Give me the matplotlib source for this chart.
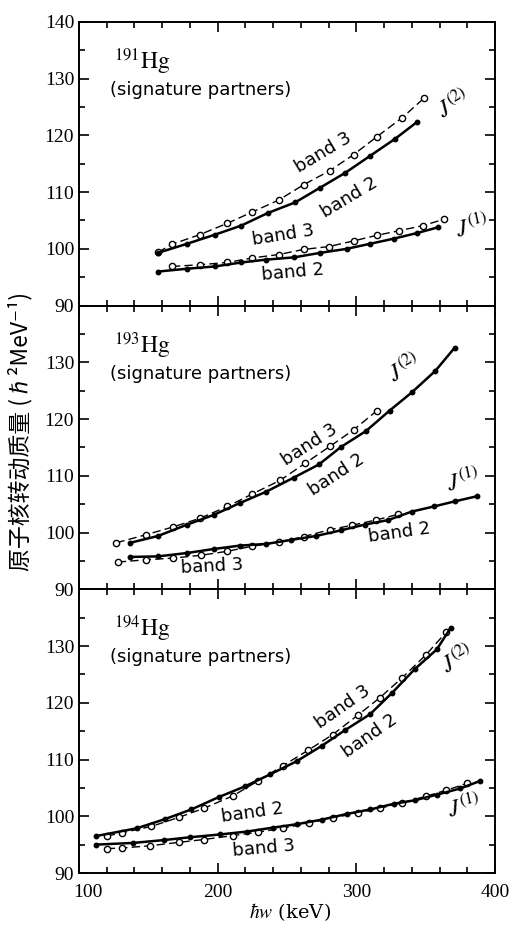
import matplotlib
matplotlib.use("Agg")
import matplotlib.pyplot as plt
import matplotlib.transforms as mtransforms
from matplotlib.ticker import MultipleLocator

plt.rcParams['mathtext.fontset'] = 'stix'
plt.rcParams['font.family'] = ['DejaVu Sans']

# ---- 191Hg ----
hg191_j2_b3_x = [157, 167, 187, 207, 225, 244, 262, 281, 298, 315, 333, 349]
hg191_j2_b3_y = [99.4, 100.8, 102.5, 104.5, 106.5, 108.6, 111.3, 113.8, 116.6, 119.8, 123.1, 126.6]
hg191_j2_b2_x = [157, 178, 198, 217, 236, 256, 274, 292, 310, 328, 344]
hg191_j2_b2_y = [99.3, 100.9, 102.5, 104.1, 106.3, 108.2, 110.8, 113.4, 116.4, 119.4, 122.4]
hg191_j1_b3_x = [167, 187, 207, 225, 244, 262, 280, 298, 315, 331, 348, 363]
hg191_j1_b3_y = [96.9, 97.2, 97.6, 98.4, 99.0, 99.9, 100.4, 101.4, 102.4, 103.2, 104.1, 105.2]
hg191_j1_b2_x = [157, 178, 198, 217, 235, 255, 274, 293, 310, 327, 344, 359]
hg191_j1_b2_y = [96.0, 96.5, 96.9, 97.6, 98.1, 98.5, 99.3, 100.0, 100.9, 101.8, 102.8, 103.8]

# ---- 193Hg ----
hg193_j2_b3_x = [127, 148, 168, 187, 207, 225, 245, 263, 281, 298, 315]
hg193_j2_b3_y = [98.2, 99.6, 101.0, 102.5, 104.6, 106.8, 109.2, 112.2, 115.2, 118.1, 121.5]
hg193_j2_b2_x = [137, 157, 178, 197, 216, 235, 255, 273, 289, 307, 324, 340, 357, 371]
hg193_j2_b2_y = [98.2, 99.4, 101.4, 103.1, 105.2, 107.2, 109.7, 112.0, 115.1, 117.9, 121.5, 124.7, 128.5, 132.6]
hg193_j1_b3_x = [128, 148, 168, 188, 207, 225, 244, 262, 281, 297, 314, 330]
hg193_j1_b3_y = [94.8, 95.2, 95.5, 96.0, 96.7, 97.6, 98.3, 99.3, 100.5, 101.3, 102.2, 103.2]
hg193_j1_b2_x = [137, 157, 178, 197, 216, 235, 253, 271, 289, 306, 323, 340, 356, 371, 387]
hg193_j1_b2_y = [95.7, 95.8, 96.4, 97.1, 97.7, 98.0, 98.7, 99.4, 100.4, 101.4, 102.2, 103.7, 104.6, 105.5, 106.4]

# ---- 194Hg ----
hg194_j2_b3_x = [120, 131, 152, 172, 190, 211, 229, 247, 265, 283, 301, 317, 333, 350, 365]
hg194_j2_b3_y = [96.5, 97.1, 98.2, 99.8, 101.4, 103.6, 106.2, 108.9, 111.6, 114.4, 117.8, 120.9, 124.4, 128.4, 132.5]
hg194_j2_b2_x = [112, 142, 162, 181, 201, 220, 238, 257, 275, 292, 310, 326, 342, 358, 368]
hg194_j2_b2_y = [96.5, 97.9, 99.5, 101.2, 103.4, 105.3, 107.4, 109.7, 112.4, 115.2, 118.0, 121.8, 125.9, 129.4, 133.2]
hg194_j1_b3_x = [120, 131, 151, 172, 190, 211, 229, 247, 266, 283, 301, 317, 333, 350, 365, 380]
hg194_j1_b3_y = [94.3, 94.4, 94.8, 95.4, 95.9, 96.6, 97.2, 97.9, 98.8, 99.7, 100.6, 101.4, 102.4, 103.5, 104.6, 105.8]
hg194_j1_b2_x = [112, 139, 161, 180, 202, 221, 240, 257, 275, 293, 310, 327, 342, 358, 375, 389]
hg194_j1_b2_y = [95.0, 95.3, 95.8, 96.3, 96.8, 97.3, 98.0, 98.6, 99.4, 100.4, 101.2, 102.2, 102.8, 103.8, 104.9, 106.2]

nuclei = ['191', '193', '194']
y_ticks = [90, 100, 110, 120, 130, 140]
x_ticks = [100, 200, 300, 400]

series = [
    (hg191_j2_b3_x, hg191_j2_b3_y, hg191_j2_b2_x, hg191_j2_b2_y,
     hg191_j1_b3_x, hg191_j1_b3_y, hg191_j1_b2_x, hg191_j1_b2_y),
    (hg193_j2_b3_x, hg193_j2_b3_y, hg193_j2_b2_x, hg193_j2_b2_y,
     hg193_j1_b3_x, hg193_j1_b3_y, hg193_j1_b2_x, hg193_j1_b2_y),
    (hg194_j2_b3_x, hg194_j2_b3_y, hg194_j2_b2_x, hg194_j2_b2_y,
     hg194_j1_b3_x, hg194_j1_b3_y, hg194_j1_b2_x, hg194_j1_b2_y),
]

# label placements (data coords, rotation) per panel
band_labels = [
    [('band 3', 276, 116.9, 31), ('band 2', 295, 109.1, 31),
     ('band 3', 247, 102.4, 9), ('band 2', 254, 95.8, 5)],
    [('band 3', 266, 115.4, 33), ('band 2', 286, 110.2, 33),
     ('band 2', 331, 100.0, 8), ('band 3', 196, 94.0, 3)],
    [('band 3', 290, 119.2, 35), ('band 2', 310, 114.1, 35),
     ('band 2', 225, 100.6, 8), ('band 3', 233, 94.4, 5)],
]
j_labels = [
    [('$J^{(2)}$', 370, 125.5, 30), ('$J^{(1)}$', 384, 103.8, 12)],
    [('$J^{(2)}$', 335, 129.0, 30), ('$J^{(1)}$', 377, 109.0, 12)],
    [('$J^{(2)}$', 373, 127.6, 30), ('$J^{(1)}$', 378, 101.6, 12)],
]

fig = plt.figure(figsize=(5.09, 9.25), dpi=100)
left, width = 79 / 509, 416 / 509
panel_h = 283.7 / 925
bottom0 = 52 / 925

for i in range(3):
    b = bottom0 + (2 - i) * panel_h
    ax = fig.add_axes([left, b, width, panel_h])
    j2b3x, j2b3y, j2b2x, j2b2y, j1b3x, j1b3y, j1b2x, j1b2y = series[i]

    ax.plot(j2b3x, j2b3y, color='black', lw=1.0, ls=(0, (6, 3)),
            marker='o', mfc='white', mec='black', ms=4.5, mew=1.0)
    ax.plot(j2b2x, j2b2y, color='black', lw=1.8, ls='-',
            marker='o', mfc='black', mec='black', ms=3.2)
    ax.plot(j1b3x, j1b3y, color='black', lw=1.0, ls=(0, (6, 3)),
            marker='o', mfc='white', mec='black', ms=4.5, mew=1.0)
    ax.plot(j1b2x, j1b2y, color='black', lw=1.8, ls='-',
            marker='o', mfc='black', mec='black', ms=3.2)

    ax.set_xlim(100, 400)
    ax.set_ylim(90, 140)
    ax.set_yticks(y_ticks)
    if i == 0:
        ax.set_yticklabels([str(v) for v in y_ticks])
    else:
        ax.set_yticklabels([str(v) for v in y_ticks[:-1]] + [''])
    ax.set_xticks(x_ticks)
    ax.xaxis.set_minor_locator(MultipleLocator(20))
    ax.yaxis.set_minor_locator(MultipleLocator(5))
    ax.tick_params(which='both', direction='in', top=True, right=True,
                   width=1.2, colors='black')
    ax.tick_params(which='major', length=7)
    ax.tick_params(which='minor', length=4)
    ax.tick_params(axis='x', pad=8)
    for lab in ax.get_yticklabels() + ax.get_xticklabels():
        lab.set_family('Liberation Serif')
        lab.set_fontsize(14)
    if i < 2:
        ax.set_xticklabels([])
    else:
        # the "100" sits a little right of the corner in the original
        first = ax.get_xticklabels()[0]
        first.set_transform(first.get_transform() +
                            mtransforms.ScaledTranslation(9 / 100, 0, fig.dpi_scale_trans))
    for sp in ax.spines.values():
        sp.set_linewidth(1.4)

    ax.text(0.085, 0.86, r'$^{%s}\mathrm{Hg}$' % nuclei[i], transform=ax.transAxes,
            fontsize=17, ha='left', va='center')
    ax.text(0.075, 0.76, '(signature partners)', transform=ax.transAxes,
            fontsize=13, ha='left', va='center')
    for txt, x, y, rot in band_labels[i]:
        ax.text(x, y, txt, fontsize=13, rotation=rot, ha='center', va='center',
                rotation_mode='anchor')
    for txt, x, y, rot in j_labels[i]:
        ax.text(x, y, txt, fontsize=17, rotation=rot, ha='center', va='center',
                rotation_mode='anchor')

fig.text(290 / 509, 1 - 912 / 925, r'$\hbar w$ (keV)', fontsize=14,
         ha='center', va='center', family='DejaVu Serif')
fig.text(20 / 509, 1 - 431 / 925, '原子核转动质量 (ℏ²MeV⁻¹)', rotation=90,
         fontsize=16.5, ha='center', va='center',
         family=['Noto Sans CJK SC', 'DejaVu Sans'])

fig.savefig('out.png', dpi=100)
